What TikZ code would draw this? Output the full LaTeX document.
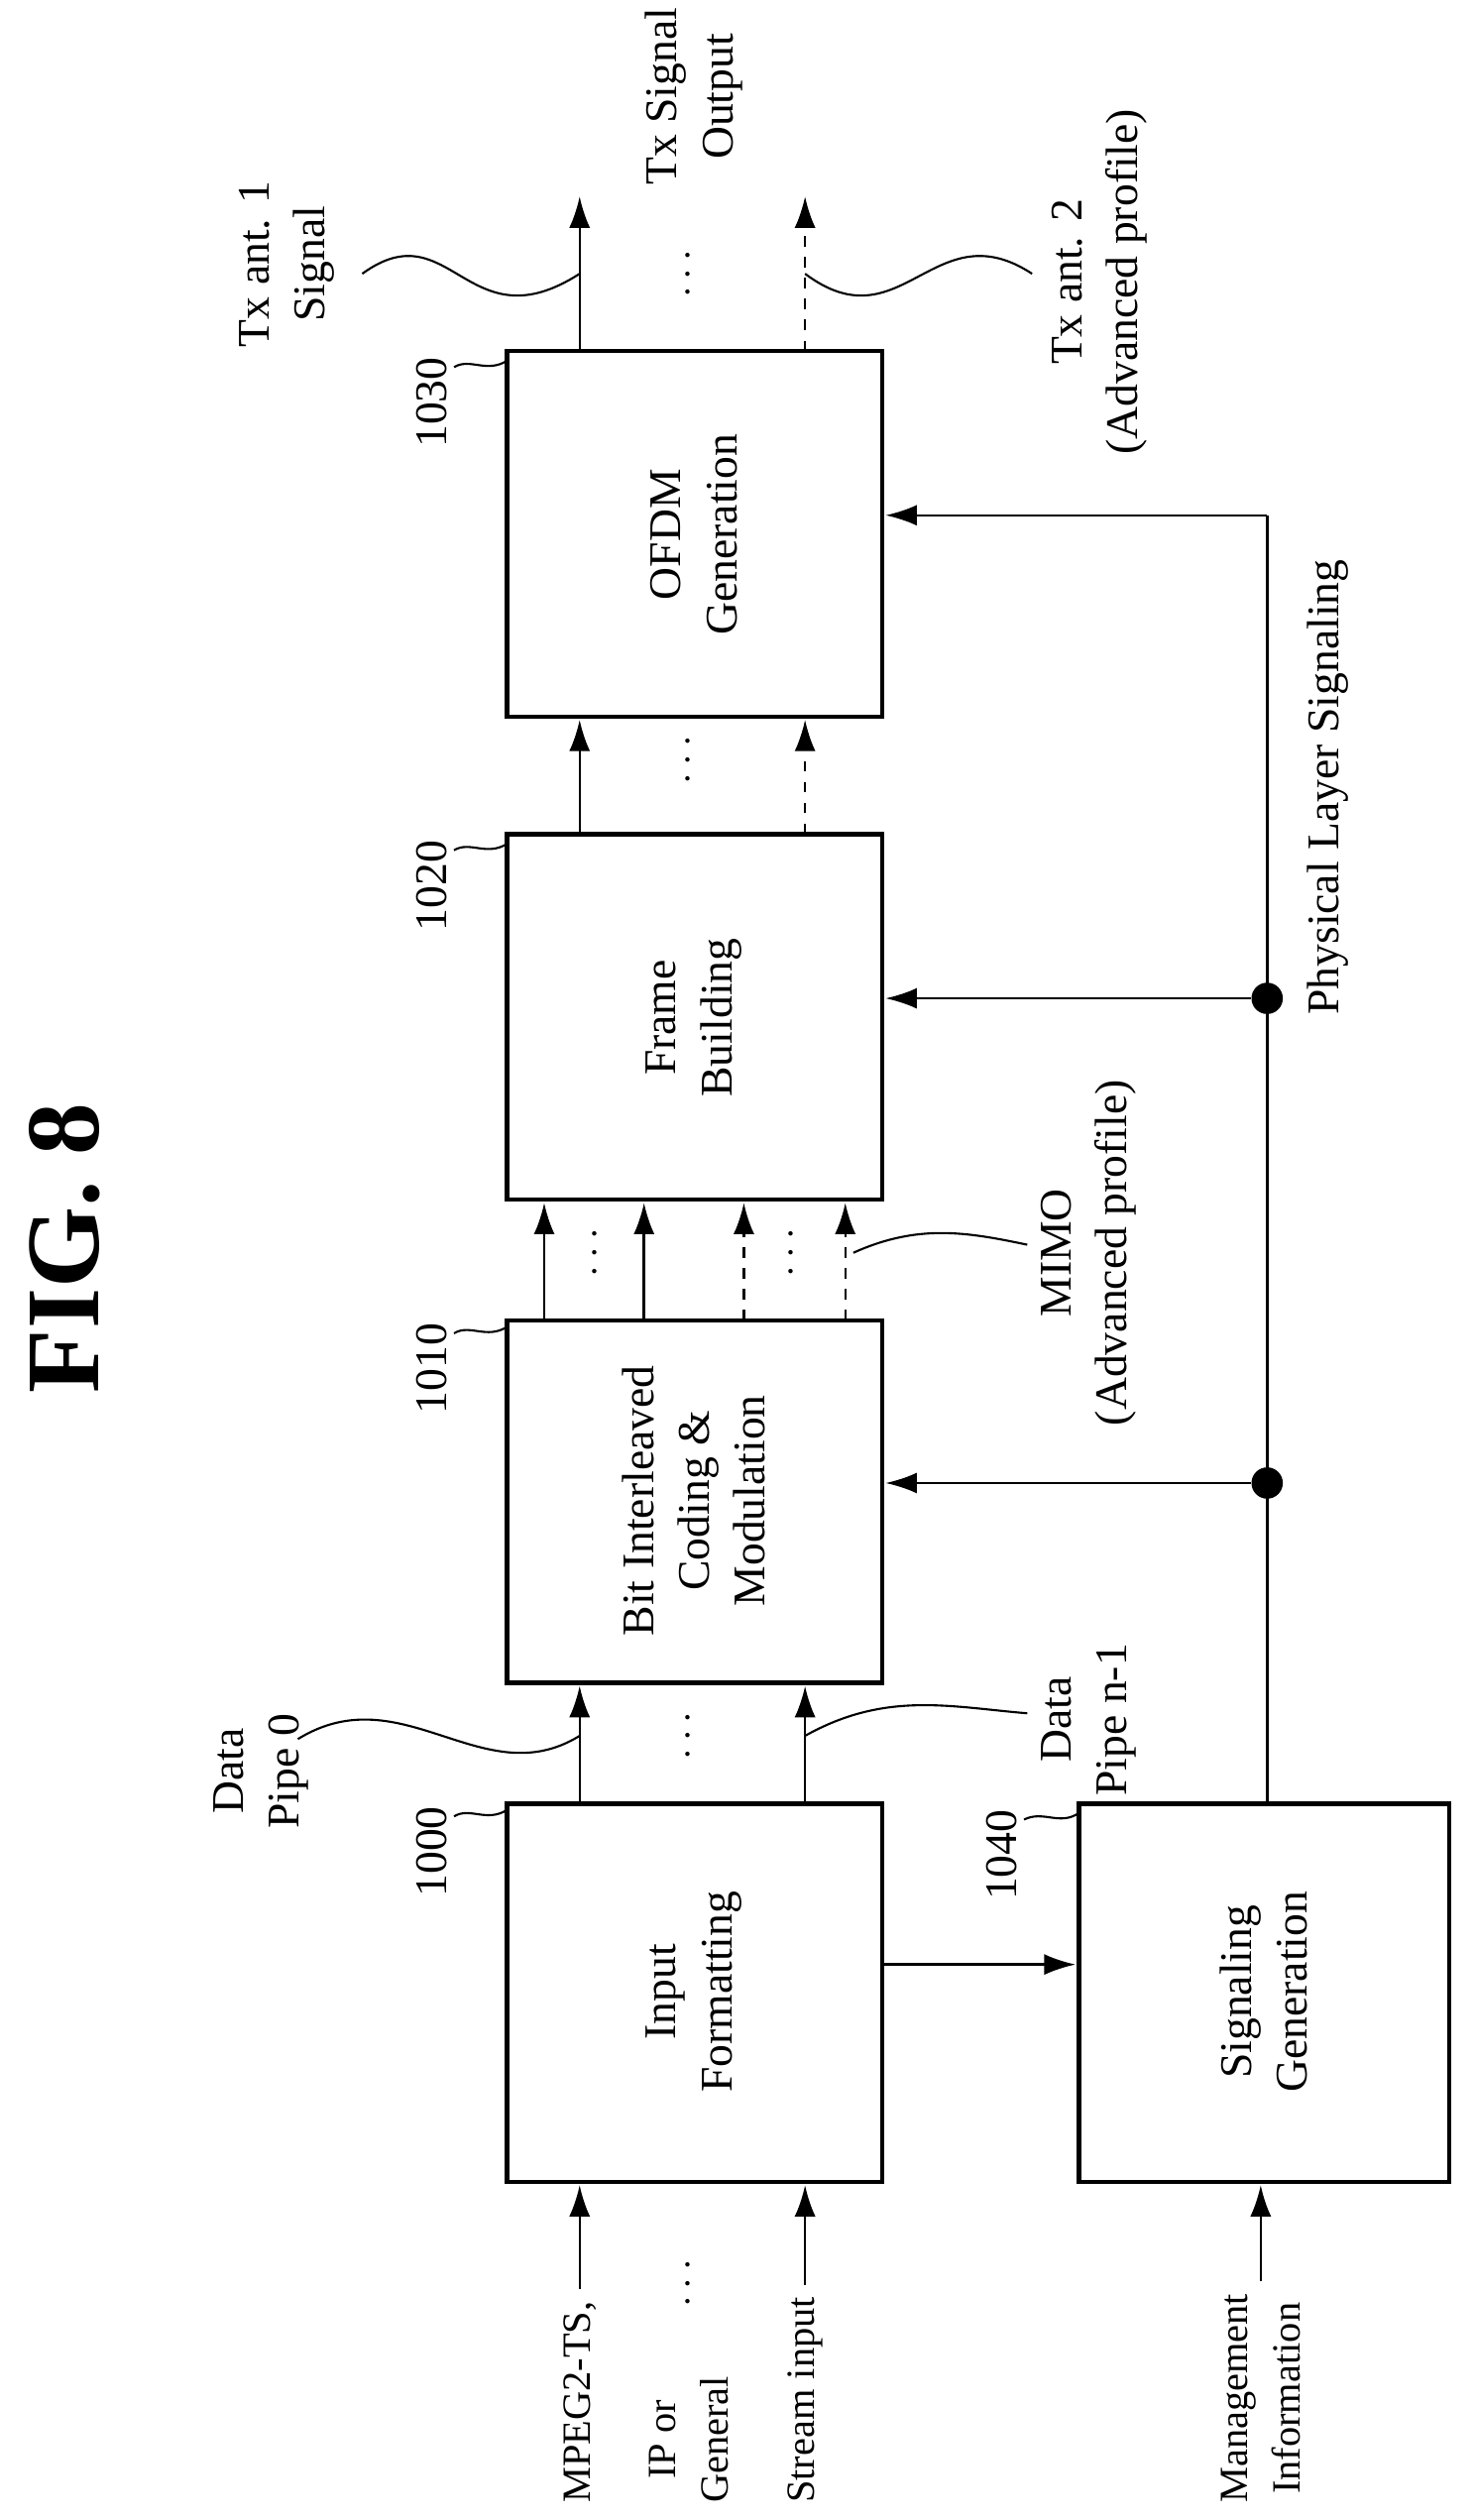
\documentclass[tikz,border=0pt]{standalone}
\usepackage{fontspec}
\setmainfont{Liberation Serif}
\usetikzlibrary{arrows.meta}
\begin{document}
\begin{tikzpicture}[x=0.016245cm,y=-0.016245cm,
  box/.style={draw,line width=1.3pt},
  ar/.style={-{Latex[length=9pt,width=6pt]},line width=0.7pt},
  dar/.style={ar,dashed},
  lbl/.style={rotate=90,align=center,font=\fontsize{13}{16}\selectfont},
  inl/.style={lbl,anchor=west,font=\fontsize{11.5}{15}\selectfont},
  dot/.style={circle,fill,inner sep=0pt,minimum size=9pt},
  wav/.style={line width=0.6pt}]
\useasboundingbox (0,0) rectangle (916,1565);
\node[rotate=90,font=\bfseries\fontsize{30}{34}\selectfont] (fig) at (40,775) {FIG. 8};
% boxes
\draw[box] (315,1120) rectangle (548,1355); \node[lbl] (b1000) at (431,1237) {Input\\Formatting};
\draw[box] (670,1120) rectangle (900,1355); \node[lbl] (b1040) at (785,1237) {Signaling\\Generation};
\draw[box] (315,820) rectangle (548,1045); \node[lbl] (b1010) at (431,932) {Bit Interleaved\\Coding \&\\Modulation};
\draw[box] (315,518) rectangle (548,745); \node[lbl] (b1020) at (431,632) {Frame\\Building};
\draw[box] (315,218) rectangle (548,445); \node[lbl] (b1030) at (431,332) {OFDM\\Generation};
% numbers
\node[lbl] (n1000) at (268,1150) {1000}; \draw[wav] (282,1128) .. controls (292,1122) and (302,1132) .. (315,1124);
\node[lbl] (n1010) at (268,850) {1010}; \draw[wav] (282,828) .. controls (292,822) and (302,832) .. (315,824);
\node[lbl] (n1020) at (268,550) {1020}; \draw[wav] (282,528) .. controls (292,522) and (302,532) .. (315,524);
\node[lbl] (n1030) at (268,250) {1030}; \draw[wav] (282,228) .. controls (292,222) and (302,232) .. (315,224);
\node[lbl] (n1040) at (622,1152) {1040}; \draw[wav] (636,1130) .. controls (648,1124) and (658,1134) .. (670,1126);
% inputs
\node[inl] (mpeg) at (360,1562) {MPEG2-TS,};
\node[inl] (ip) at (428,1562) {IP or\\General};
\node[inl] (si) at (500,1562) {Stream input};
\node[inl] (mi) at (783,1562) {Management\\Information};
\draw[ar] (mpeg.east) -- (360,1357);
\draw[ar] (si.east) -- (500,1357);
\draw[ar] (mi.east) -- (783,1357);
\node[lbl] (d0) at (428,1418) {$\cdots$};
\draw[ar] (548,1220) -- (668,1220);
% signaling line
\draw[line width=0.7pt] (787,1120) -- (787,320);
\node[dot] (p1) at (787,921) {}; \node[dot] (p2) at (787,620) {};
\draw[ar] (p1) -- (550,921);
\draw[ar] (p2) -- (550,620);
\draw[ar] (787,320) -- (550,320);
\node[lbl,anchor=east] (pls) at (825,340) {Physical Layer Signaling};
% 1000 -> 1010
\draw[ar] (360,1120) -- (360,1047);
\draw[ar] (500,1120) -- (500,1047);
\node[lbl] (d1) at (428,1078) {$\cdots$};
\node[lbl] (dp0) at (162,1100) {Data\\Pipe 0};
\draw[wav] (185,1080) .. controls (250,1040) and (300,1115) .. (360,1078);
\node[lbl] (dpn) at (676,1068) {Data\\Pipe n-1};
\draw[wav] (500,1078) .. controls (550,1050) and (590,1060) .. (638,1064);
% 1010 -> 1020
\draw[ar] (338,820) -- (338,747);
\draw[ar] (400,820) -- (400,747);
\draw[dar] (462,820) -- (462,747);
\draw[dar] (525,820) -- (525,747);
\node[lbl] (d2) at (370,778) {$\cdots$};
\node[lbl] (d3) at (492,778) {$\cdots$};
\node[lbl] (mimo) at (676,778) {MIMO\\(Advanced profile)};
\draw[wav] (530,778) .. controls (570,760) and (600,765) .. (638,773);
% 1020 -> 1030
\draw[ar] (360,518) -- (360,447);
\draw[dar] (500,518) -- (500,447);
\node[lbl] (d4) at (428,472) {$\cdots$};
% outputs
\draw[ar] (360,218) -- (360,122);
\draw[dar] (500,218) -- (500,122);
\node[lbl] (d5) at (428,170) {$\cdots$};
\node[lbl] (txo) at (431,60) {Tx Signal\\Output};
\node[lbl] (tx1) at (178,164) {Tx ant. 1\\Signal};
\draw[wav] (225,170) .. controls (280,130) and (290,215) .. (360,170);
\node[lbl] (tx2) at (683,175) {Tx ant. 2\\(Advanced profile)};
\draw[wav] (500,170) .. controls (560,215) and (580,130) .. (641,170);
\end{tikzpicture}
\end{document}
